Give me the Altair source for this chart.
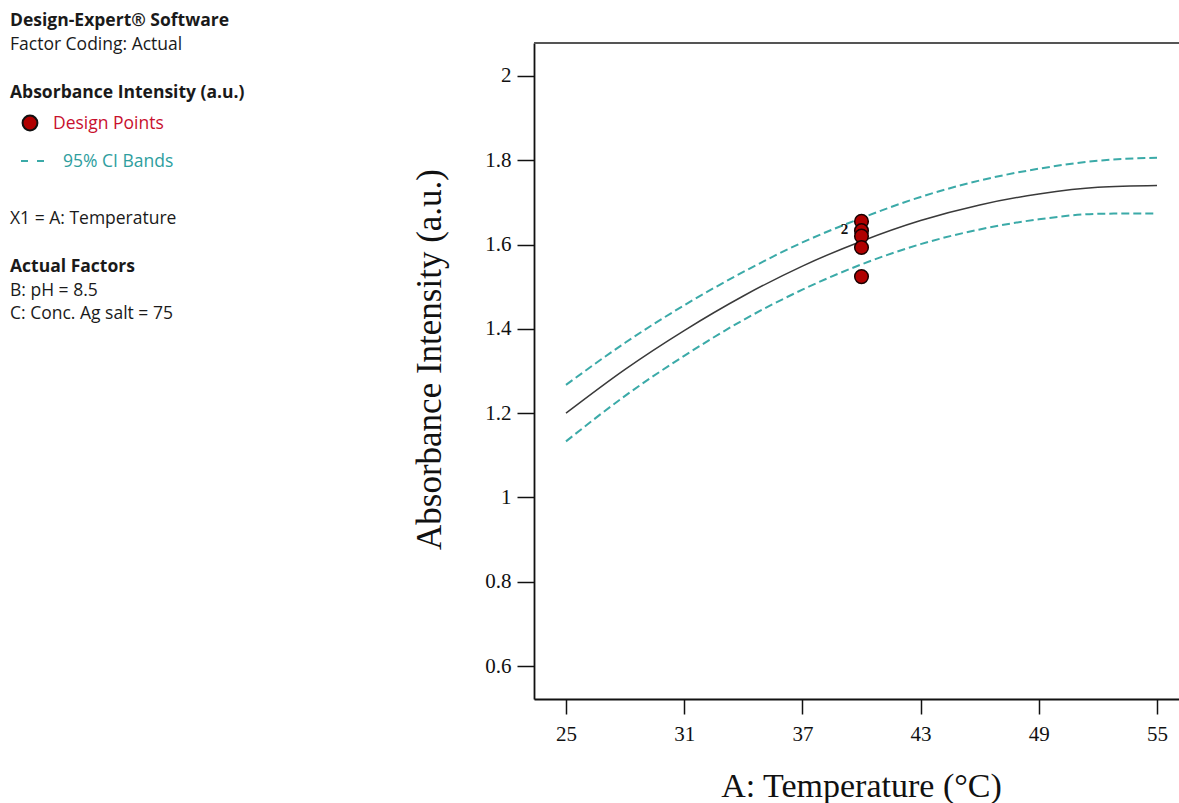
import altair as alt
import pandas as pd

# ---- data ----
temp_grid = [25, 28, 31, 34, 37, 40, 43, 46, 49, 52, 55]
pred = [1.200, 1.304, 1.396, 1.478, 1.549, 1.608, 1.657, 1.694, 1.720, 1.736, 1.740]
ci_upper = [1.267, 1.367, 1.456, 1.535, 1.605, 1.663, 1.713, 1.752, 1.780, 1.799, 1.806]
ci_lower = [1.133, 1.241, 1.336, 1.421, 1.493, 1.553, 1.601, 1.636, 1.660, 1.673, 1.674]
design_temp = [40, 40, 40, 40, 40]
design_abs = [1.655, 1.633, 1.620, 1.593, 1.524]
repeat_temp = [40]
repeat_abs = [1.633]
repeat_label = ["2"]
x_ticks = [25, 31, 37, 43, 49, 55]
y_ticks = [0.6, 0.8, 1.0, 1.2, 1.4, 1.6, 1.8, 2.0]

X_DOMAIN = [23.376, 56.117]
Y_DOMAIN = [0.5217, 2.0783]
PW, PH = 645, 656
LEFT, TOP = 534, 43

TEAL = "#3BAAA8"
SERIF = "Liberation Serif"
SANS = "Open Sans"

pred_df = pd.DataFrame({"temp": temp_grid, "value": pred})
band_df = pd.concat([
    pd.DataFrame({"temp": temp_grid, "value": ci_upper, "band": "upper"}),
    pd.DataFrame({"temp": temp_grid, "value": ci_lower, "band": "lower"}),
])
pts_df = pd.DataFrame({"temp": design_temp, "value": design_abs})
rep_df = pd.DataFrame({"temp": repeat_temp, "value": repeat_abs, "label": repeat_label})

xs = alt.Scale(domain=X_DOMAIN, nice=False, zero=False)
ys = alt.Scale(domain=Y_DOMAIN, nice=False, zero=False)

x_axis = alt.Axis(values=x_ticks, grid=False, tickSize=15, tickWidth=1.5, tickColor="#111",
                  domainColor="#111", domainWidth=1.8, labelFont=SERIF, labelFontSize=21,
                  labelColor="#111", labelPadding=9, title="A: Temperature (°C)",
                  titleFont=SERIF, titleFontSize=34, titleFontWeight="normal", titleColor="#111",
                  titleX=327, titleY=97, titleBaseline="alphabetic", titleAlign="center")
y_axis = alt.Axis(values=y_ticks, format=".1~f", grid=False, tickSize=17, tickWidth=1.5,
                  tickColor="#111", domainColor="#111", domainWidth=1.8, labelFont=SERIF,
                  labelFontSize=21, labelColor="#111", labelPadding=6,
                  title="Absorbance Intensity (a.u.)", titleFont=SERIF, titleFontSize=35,
                  titleFontWeight="normal", titleColor="#111", titleAngle=270,
                  titleX=-94, titleY=316, titleBaseline="alphabetic", titleAlign="center")

center = alt.Chart(pred_df).mark_line(color="#3a3a3a", strokeWidth=1.5, interpolate="monotone").encode(
    x=alt.X("temp:Q", scale=xs, axis=x_axis),
    y=alt.Y("value:Q", scale=ys, axis=y_axis),
)
bands = alt.Chart(band_df).mark_line(color=TEAL, strokeWidth=2, strokeDash=[8, 4],
                                     interpolate="monotone").encode(
    x=alt.X("temp:Q", scale=xs), y=alt.Y("value:Q", scale=ys), detail="band:N")
points = alt.Chart(pts_df).mark_point(filled=True, shape="circle", size=185, fill="#B00000",
                                      stroke="#1a0000", strokeWidth=1.5, opacity=1).encode(
    x=alt.X("temp:Q", scale=xs), y=alt.Y("value:Q", scale=ys))
rep = alt.Chart(rep_df).mark_text(font=SERIF, fontSize=15, fontWeight="bold", color="#111",
                                  dx=-17, dy=-2, align="center", baseline="middle").encode(
    x=alt.X("temp:Q", scale=xs), y=alt.Y("value:Q", scale=ys), text="label:N")

top_border = alt.Chart(pd.DataFrame({"a": [0]})).mark_rule(color="#555", strokeWidth=2).encode(
    x=alt.value(0), x2=alt.value(PW), y=alt.value(0))

one = pd.DataFrame({"a": [0]})


def txt(s, px, py, bold=False, color="#1a1a1a", size=17.5):
    return alt.Chart(one).mark_text(text=s, align="left", baseline="middle", font=SANS,
                                    fontSize=size, fontWeight="bold" if bold else "normal",
                                    color=color).encode(x=alt.value(px - LEFT), y=alt.value(py - TOP))


side = [
    txt("Design-Expert® Software", 10, 21, bold=True),
    txt("Factor Coding: Actual", 10, 45),
    txt("Absorbance Intensity (a.u.)", 10, 93, bold=True),
    txt("Design Points", 53, 124, color="#C8102E"),
    txt("95% CI Bands", 63, 162, color="#2E9E9E"),
    txt("X1 = A: Temperature", 10, 219),
    txt("Actual Factors", 10, 267, bold=True),
    txt("B: pH = 8.5", 10, 291),
    txt("C: Conc. Ag salt = 75", 10, 314),
]
leg_pt = alt.Chart(one).mark_point(filled=True, shape="circle", size=220, fill="#B00000",
                                   stroke="#111", strokeWidth=2, opacity=1).encode(
    x=alt.value(30 - LEFT), y=alt.value(123 - TOP))
leg_dash = alt.Chart(one).mark_rule(color=TEAL, strokeWidth=2, strokeDash=[7, 9]).encode(
    x=alt.value(21 - LEFT), x2=alt.value(45 - LEFT), y=alt.value(161 - TOP))

chart = alt.layer(center, bands, points, rep, top_border, leg_pt, leg_dash, *side).properties(
    width=PW, height=PH,
    autosize=alt.AutoSizeParams(type="none"),
    padding={"left": LEFT, "top": TOP, "right": 0, "bottom": 803 - TOP - PH},
).configure_view(stroke=None).configure(background="white")

chart.save("out.html", embed_options={"renderer": "svg", "actions": False})
